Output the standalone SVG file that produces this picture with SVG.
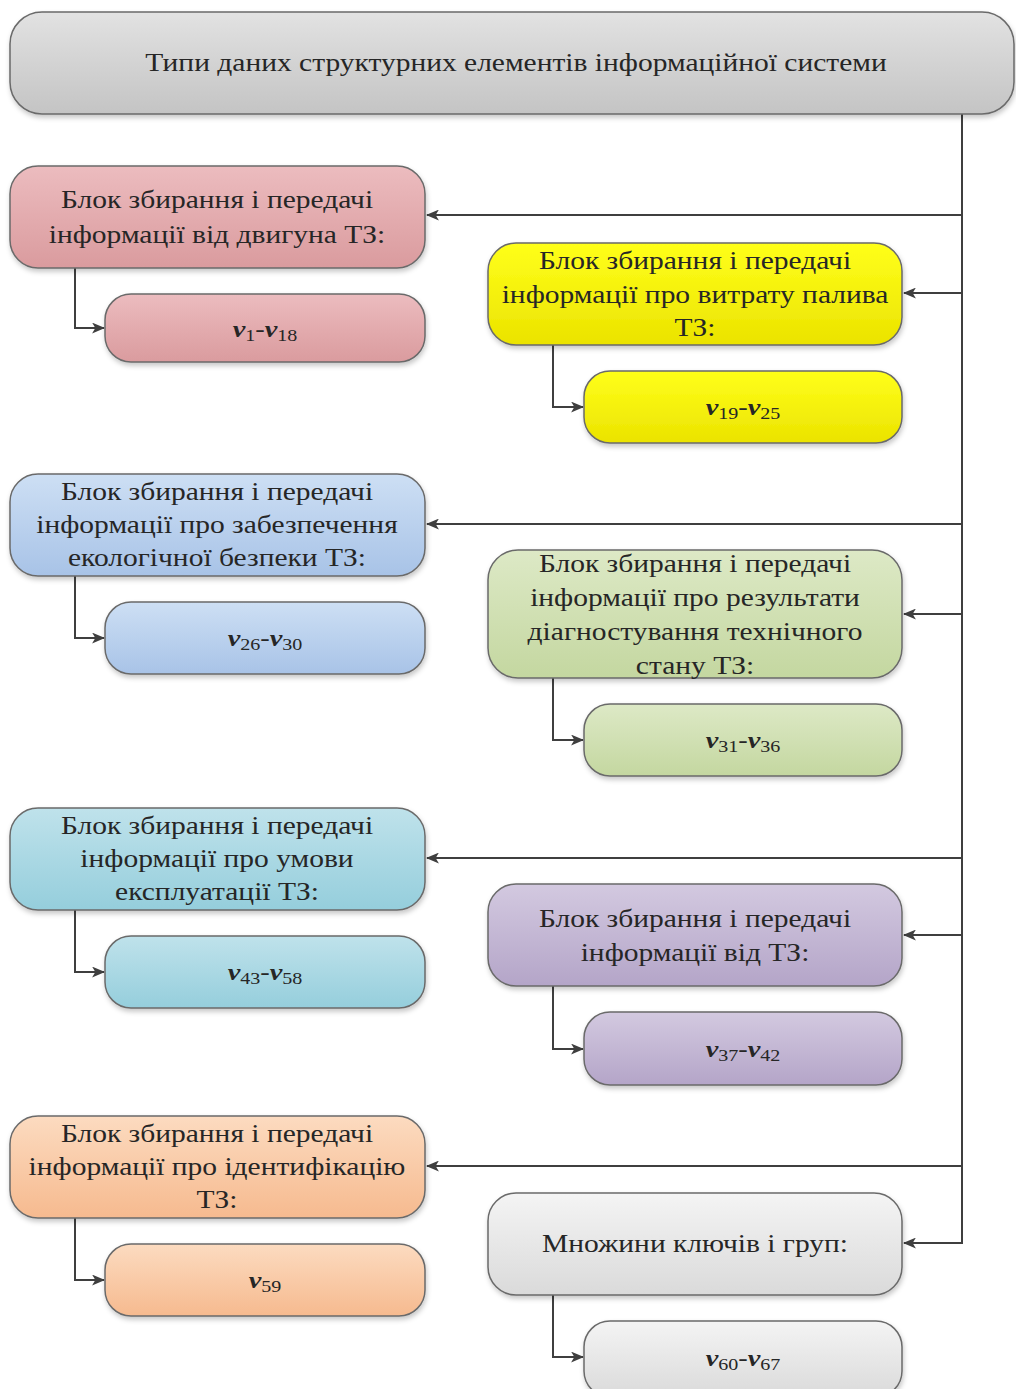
<svg xmlns="http://www.w3.org/2000/svg" width="1016" height="1389" viewBox="0 0 1016 1389">
  <style>
    .box { stroke: #6a6a6a; stroke-width: 1.5; filter: url(#shadow); }
    .lbl { font-family: "Liberation Serif", "Times New Roman", serif; font-size: 25px; fill: #262626; text-anchor: middle; }
    .var { font-family: "Liberation Serif", "Times New Roman", serif; font-size: 24px; fill: #262626; text-anchor: middle; }
    .v { font-style: italic; font-weight: bold; }
    .sub { font-size: 17px; }
    .wire { fill: none; stroke: #3f3f3f; stroke-width: 2; }
  </style>
  <defs>
    <filter id="shadow" x="-5%" y="-10%" width="112%" height="130%">
      <feDropShadow dx="1" dy="3" stdDeviation="2.5" flood-color="#000" flood-opacity="0.22"/>
    </filter>
    <marker id="head" viewBox="0 0 12 10" refX="11" refY="5" markerWidth="13" markerHeight="11" markerUnits="userSpaceOnUse" orient="auto">
      <path d="M0,0 L12,5 L0,10 L3,5 z" fill="#3f3f3f"/>
    </marker>
    <linearGradient id="gTitle" x1="0" y1="0" x2="0" y2="1"><stop offset="0" stop-color="#e2e2e2"/><stop offset="1" stop-color="#c4c4c4"/></linearGradient>
    <linearGradient id="gRed" x1="0" y1="0" x2="0" y2="1"><stop offset="0" stop-color="#ecbcbf"/><stop offset="1" stop-color="#da9b9e"/></linearGradient>
    <linearGradient id="gYellow" x1="0" y1="0" x2="0" y2="1"><stop offset="0" stop-color="#ffff1a"/><stop offset="1" stop-color="#ebe300"/></linearGradient>
    <linearGradient id="gBlue" x1="0" y1="0" x2="0" y2="1"><stop offset="0" stop-color="#cddff4"/><stop offset="1" stop-color="#a8c3e7"/></linearGradient>
    <linearGradient id="gGreen" x1="0" y1="0" x2="0" y2="1"><stop offset="0" stop-color="#dde9c6"/><stop offset="1" stop-color="#c4d7a0"/></linearGradient>
    <linearGradient id="gCyan" x1="0" y1="0" x2="0" y2="1"><stop offset="0" stop-color="#bfe2eb"/><stop offset="1" stop-color="#95cedc"/></linearGradient>
    <linearGradient id="gPurple" x1="0" y1="0" x2="0" y2="1"><stop offset="0" stop-color="#d3c9e0"/><stop offset="1" stop-color="#b4a5c8"/></linearGradient>
    <linearGradient id="gOrange" x1="0" y1="0" x2="0" y2="1"><stop offset="0" stop-color="#fcdbc0"/><stop offset="1" stop-color="#f6ba8f"/></linearGradient>
    <linearGradient id="gGray" x1="0" y1="0" x2="0" y2="1"><stop offset="0" stop-color="#f4f4f4"/><stop offset="1" stop-color="#dadada"/></linearGradient>
  </defs>

  <rect width="1016" height="1389" fill="#ffffff"/>

  <!-- connectors: trunk, feeders into each block, elbows to value boxes -->
  <g id="connectors">
    <path class="wire" d="M962,114 L962,1243 L904,1243" marker-end="url(#head)"/>
    <path class="wire" d="M962,215 L427,215" marker-end="url(#head)"/>
    <path class="wire" d="M962,293 L904,293" marker-end="url(#head)"/>
    <path class="wire" d="M962,524 L427,524" marker-end="url(#head)"/>
    <path class="wire" d="M962,614 L904,614" marker-end="url(#head)"/>
    <path class="wire" d="M962,858 L427,858" marker-end="url(#head)"/>
    <path class="wire" d="M962,935 L904,935" marker-end="url(#head)"/>
    <path class="wire" d="M962,1166 L427,1166" marker-end="url(#head)"/>

    <path class="wire" d="M75,268 L75,328 L104,328" marker-end="url(#head)"/>
    <path class="wire" d="M553,345 L553,407 L583,407" marker-end="url(#head)"/>
    <path class="wire" d="M75,576 L75,638 L104,638" marker-end="url(#head)"/>
    <path class="wire" d="M553,678 L553,740 L583,740" marker-end="url(#head)"/>
    <path class="wire" d="M75,910 L75,972 L104,972" marker-end="url(#head)"/>
    <path class="wire" d="M553,986 L553,1049 L583,1049" marker-end="url(#head)"/>
    <path class="wire" d="M75,1218 L75,1280 L104,1280" marker-end="url(#head)"/>
    <path class="wire" d="M553,1295 L553,1357 L583,1357" marker-end="url(#head)"/>
  </g>

  <!-- labels are set slightly widened: translate to the box centre, then stretch horizontally -->
  <g id="title">
    <rect class="box" x="10" y="12" width="1004" height="102" rx="32" fill="url(#gTitle)"/>
    <g transform="translate(516 0) scale(1.18 1)">
      <text class="lbl" x="0" y="71">Типи даних структурних елементів інформаційної системи</text>
    </g>
  </g>

  <g id="engine">
    <rect class="box" x="10" y="166" width="415" height="102" rx="28" fill="url(#gRed)"/>
    <g transform="translate(217 0) scale(1.18 1)">
      <text class="lbl" x="0" y="208">Блок збирання і передачі</text>
      <text class="lbl" x="0" y="243">інформації від двигуна ТЗ:</text>
    </g>
  </g>
  <g id="engine-values">
    <rect class="box" x="105" y="294" width="320" height="68" rx="26" fill="url(#gRed)"/>
    <g transform="translate(265 0) scale(1.18 1)">
      <text class="var" x="0" y="337"><tspan class="v">v</tspan><tspan class="sub" dy="4">1</tspan><tspan dy="-4">-</tspan><tspan class="v">v</tspan><tspan class="sub" dy="4">18</tspan></text>
    </g>
  </g>

  <g id="fuel">
    <rect class="box" x="488" y="243" width="414" height="102" rx="28" fill="url(#gYellow)"/>
    <g transform="translate(695 0) scale(1.18 1)">
      <text class="lbl" x="0" y="269">Блок збирання і передачі</text>
      <text class="lbl" x="0" y="303">інформації про витрату палива</text>
      <text class="lbl" x="0" y="336">ТЗ:</text>
    </g>
  </g>
  <g id="fuel-values">
    <rect class="box" x="584" y="371" width="318" height="72" rx="26" fill="url(#gYellow)"/>
    <g transform="translate(743 0) scale(1.18 1)">
      <text class="var" x="0" y="415"><tspan class="v">v</tspan><tspan class="sub" dy="4">19</tspan><tspan dy="-4">-</tspan><tspan class="v">v</tspan><tspan class="sub" dy="4">25</tspan></text>
    </g>
  </g>

  <g id="ecology">
    <rect class="box" x="10" y="474" width="415" height="102" rx="28" fill="url(#gBlue)"/>
    <g transform="translate(217 0) scale(1.18 1)">
      <text class="lbl" x="0" y="500">Блок збирання і передачі</text>
      <text class="lbl" x="0" y="533">інформації про забезпечення</text>
      <text class="lbl" x="0" y="566">екологічної безпеки ТЗ:</text>
    </g>
  </g>
  <g id="ecology-values">
    <rect class="box" x="105" y="602" width="320" height="72" rx="26" fill="url(#gBlue)"/>
    <g transform="translate(265 0) scale(1.18 1)">
      <text class="var" x="0" y="646"><tspan class="v">v</tspan><tspan class="sub" dy="4">26</tspan><tspan dy="-4">-</tspan><tspan class="v">v</tspan><tspan class="sub" dy="4">30</tspan></text>
    </g>
  </g>

  <g id="diagnostics">
    <rect class="box" x="488" y="550" width="414" height="128" rx="30" fill="url(#gGreen)"/>
    <g transform="translate(695 0) scale(1.18 1)">
      <text class="lbl" x="0" y="572">Блок збирання і передачі</text>
      <text class="lbl" x="0" y="606">інформації про результати</text>
      <text class="lbl" x="0" y="640">діагностування технічного</text>
      <text class="lbl" x="0" y="674">стану ТЗ:</text>
    </g>
  </g>
  <g id="diagnostics-values">
    <rect class="box" x="584" y="704" width="318" height="72" rx="26" fill="url(#gGreen)"/>
    <g transform="translate(743 0) scale(1.18 1)">
      <text class="var" x="0" y="748"><tspan class="v">v</tspan><tspan class="sub" dy="4">31</tspan><tspan dy="-4">-</tspan><tspan class="v">v</tspan><tspan class="sub" dy="4">36</tspan></text>
    </g>
  </g>

  <g id="operation">
    <rect class="box" x="10" y="808" width="415" height="102" rx="28" fill="url(#gCyan)"/>
    <g transform="translate(217 0) scale(1.18 1)">
      <text class="lbl" x="0" y="834">Блок збирання і передачі</text>
      <text class="lbl" x="0" y="867">інформації про умови</text>
      <text class="lbl" x="0" y="900">експлуатації ТЗ:</text>
    </g>
  </g>
  <g id="operation-values">
    <rect class="box" x="105" y="936" width="320" height="72" rx="26" fill="url(#gCyan)"/>
    <g transform="translate(265 0) scale(1.18 1)">
      <text class="var" x="0" y="980"><tspan class="v">v</tspan><tspan class="sub" dy="4">43</tspan><tspan dy="-4">-</tspan><tspan class="v">v</tspan><tspan class="sub" dy="4">58</tspan></text>
    </g>
  </g>

  <g id="vehicle">
    <rect class="box" x="488" y="884" width="414" height="102" rx="28" fill="url(#gPurple)"/>
    <g transform="translate(695 0) scale(1.18 1)">
      <text class="lbl" x="0" y="927">Блок збирання і передачі</text>
      <text class="lbl" x="0" y="961">інформації від ТЗ:</text>
    </g>
  </g>
  <g id="vehicle-values">
    <rect class="box" x="584" y="1012" width="318" height="73" rx="26" fill="url(#gPurple)"/>
    <g transform="translate(743 0) scale(1.18 1)">
      <text class="var" x="0" y="1057"><tspan class="v">v</tspan><tspan class="sub" dy="4">37</tspan><tspan dy="-4">-</tspan><tspan class="v">v</tspan><tspan class="sub" dy="4">42</tspan></text>
    </g>
  </g>

  <g id="identification">
    <rect class="box" x="10" y="1116" width="415" height="102" rx="28" fill="url(#gOrange)"/>
    <g transform="translate(217 0) scale(1.18 1)">
      <text class="lbl" x="0" y="1142">Блок збирання і передачі</text>
      <text class="lbl" x="0" y="1175">інформації про ідентифікацію</text>
      <text class="lbl" x="0" y="1208">ТЗ:</text>
    </g>
  </g>
  <g id="identification-values">
    <rect class="box" x="105" y="1244" width="320" height="72" rx="26" fill="url(#gOrange)"/>
    <g transform="translate(265 0) scale(1.18 1)">
      <text class="var" x="0" y="1288"><tspan class="v">v</tspan><tspan class="sub" dy="4">59</tspan></text>
    </g>
  </g>

  <g id="keys">
    <rect class="box" x="488" y="1193" width="414" height="102" rx="28" fill="url(#gGray)"/>
    <g transform="translate(695 0) scale(1.18 1)">
      <text class="lbl" x="0" y="1252">Множини ключів і груп:</text>
    </g>
  </g>
  <g id="keys-values">
    <rect class="box" x="584" y="1321" width="318" height="76" rx="26" fill="url(#gGray)"/>
    <g transform="translate(743 0) scale(1.18 1)">
      <text class="var" x="0" y="1366"><tspan class="v">v</tspan><tspan class="sub" dy="4">60</tspan><tspan dy="-4">-</tspan><tspan class="v">v</tspan><tspan class="sub" dy="4">67</tspan></text>
    </g>
  </g>
</svg>
